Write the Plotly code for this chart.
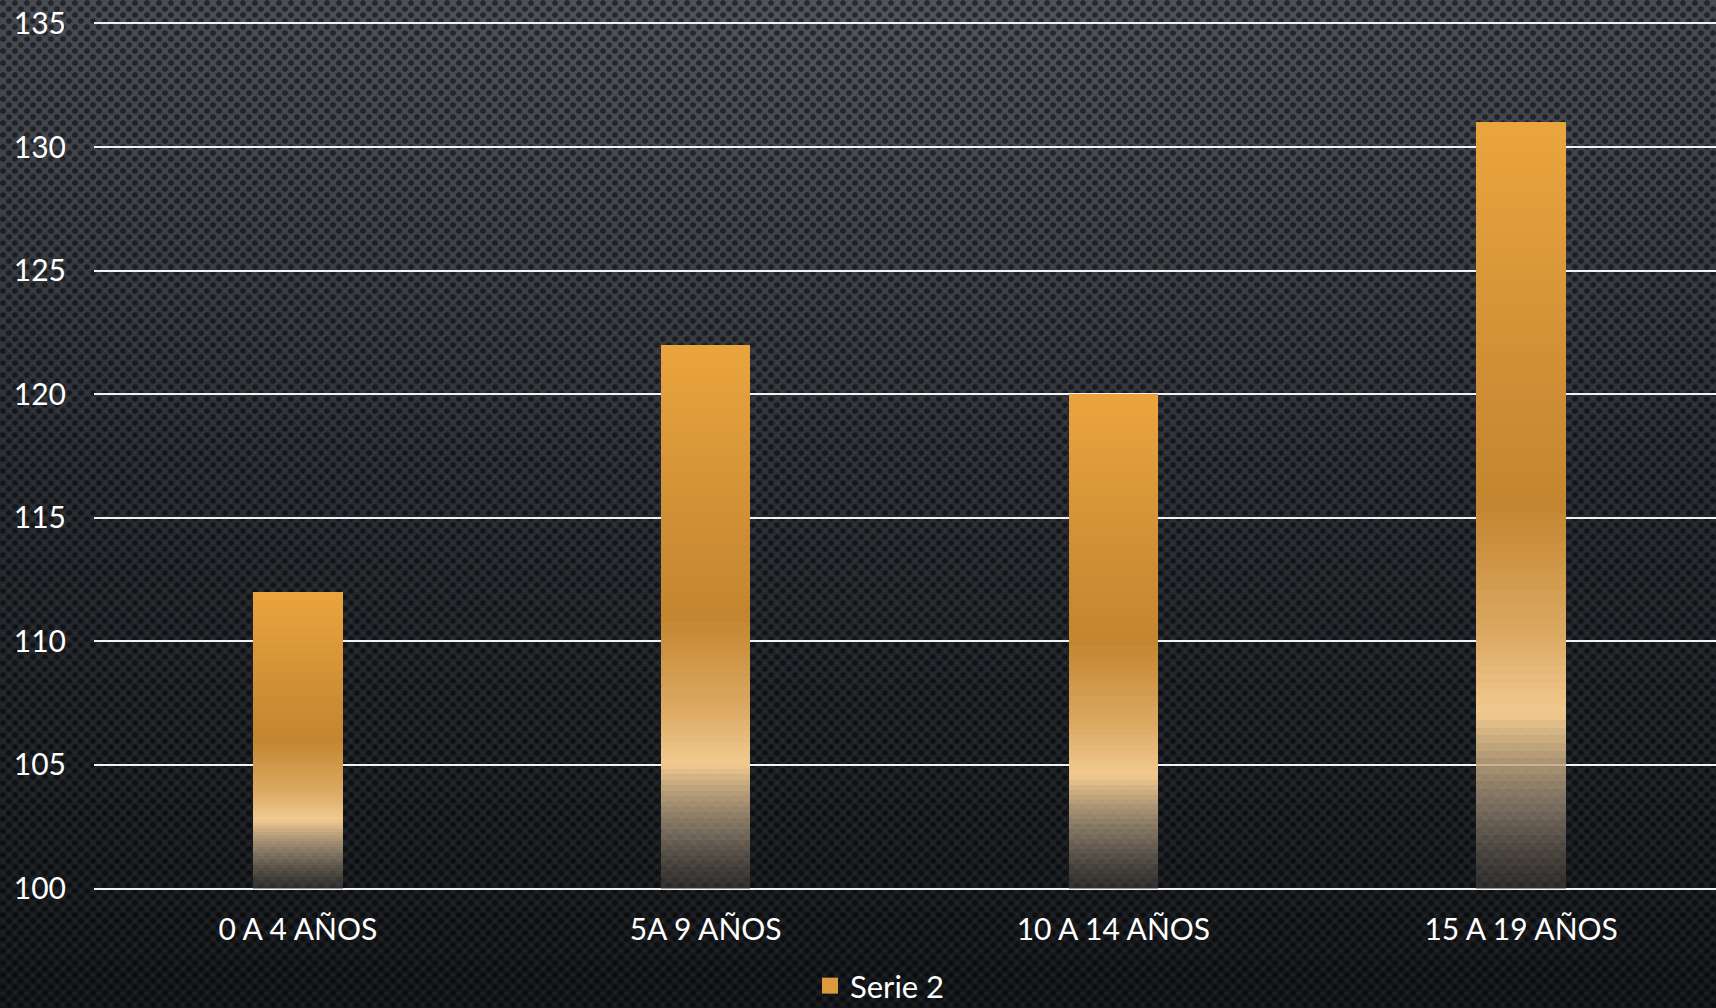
import base64
import plotly.graph_objects as go

categories = ["0 A 4 AÑOS", "5A 9 AÑOS", "10 A 14 AÑOS", "15 A 19 AÑOS"]
serie2 = [112, 122, 120, 131]
series_name = "Serie 2"
y_ticks = [100, 105, 110, 115, 120, 125, 130, 135]

W, H = 1716, 1008
ML, MR, MT, MB = 94, 0, 21, 117
PW, PH = W - ML - MR, H - MT - MB
FONT = "Lato, 'Open Sans', sans-serif"

# vertical gradient stops for bars (fraction from bottom -> rgba)
stops = [
    (0.00, (70, 66, 62, 0.5)),
    (0.10, (150, 135, 115, 0.72)),
    (0.23, (242, 202, 144, 1.0)),
    (0.33, (220, 170, 100, 1.0)),
    (0.50, (196, 134, 48, 1.0)),
    (0.70, (210, 145, 55, 1.0)),
    (1.00, (235, 165, 62, 1.0)),
]


def grad(t):
    for (t0, c0), (t1, c1) in zip(stops, stops[1:]):
        if t0 <= t <= t1:
            f = (t - t0) / (t1 - t0) if t1 > t0 else 0
            c = [c0[i] + (c1[i] - c0[i]) * f for i in range(4)]
            return "rgba(%d,%d,%d,%.3f)" % (c[0], c[1], c[2], c[3])
    c = stops[-1][1]
    return "rgba(%d,%d,%d,%.3f)" % c


NSEG = 100
base0 = y_ticks[0]
xs, bases, heights, colors = [], [], [], []
for cat, v in zip(categories, serie2):
    h = (v - base0) / NSEG
    for k in range(NSEG):
        xs.append(cat)
        bases.append(base0 + k * h)
        heights.append(h)
        colors.append(grad((k + 0.5) / NSEG))

svg = f"""<svg xmlns='http://www.w3.org/2000/svg' width='{W}' height='{H}' viewBox='0 0 {W} {H}'>
<defs>
<linearGradient id='g' x1='0' y1='0' x2='0' y2='1'>
<stop offset='0' stop-color='#42454c'/>
<stop offset='0.45' stop-color='#282b31'/>
<stop offset='1' stop-color='#15181b'/>
</linearGradient>
<radialGradient id='r' cx='0.5' cy='0' r='0.7'>
<stop offset='0' stop-color='#ffffff' stop-opacity='0.07'/>
<stop offset='1' stop-color='#ffffff' stop-opacity='0'/>
</radialGradient>
<pattern id='p' width='12' height='12' patternUnits='userSpaceOnUse'>
<circle cx='3' cy='3' r='2.8' fill='#000' fill-opacity='0.5'/>
<circle cx='9' cy='9' r='2.8' fill='#000' fill-opacity='0.5'/>
<circle cx='9' cy='3' r='1.4' fill='#fff' fill-opacity='0.04'/>
<circle cx='3' cy='9' r='1.4' fill='#fff' fill-opacity='0.04'/>
</pattern>
</defs>
<rect width='{W}' height='{H}' fill='url(#g)'/>
<rect width='{W}' height='{H}' fill='url(#r)'/>
<rect width='{W}' height='{H}' fill='url(#p)'/>
</svg>"""
bg_uri = "data:image/svg+xml;base64," + base64.b64encode(svg.encode()).decode()

fig = go.Figure()
fig.add_trace(go.Bar(
    x=xs, y=heights, base=bases,
    marker=dict(color=colors, line=dict(width=0)),
    width=0.22, showlegend=False, hoverinfo="skip",
))
fig.add_trace(go.Scatter(
    x=[None], y=[None], mode="markers", name=series_name,
    marker=dict(symbol="square", size=16, color="#dc9a3c"),
))

fig.update_layout(
    width=W, height=H,
    margin=dict(l=ML, r=MR, t=MT, b=MB),
    paper_bgcolor="#1c1f23", plot_bgcolor="rgba(0,0,0,0)",
    font=dict(family=FONT, color="#ffffff", size=30),
    barmode="overlay",
    bargap=0,
    showlegend=True,
    legend=dict(orientation="h", x=(880 - ML) / PW, xanchor="center",
                yref="container", y=1 - 986 / H, yanchor="middle",
                font=dict(size=31, color="#ffffff"), bgcolor="rgba(0,0,0,0)",
                itemwidth=30),
    images=[dict(source=bg_uri, xref="paper", yref="paper",
                 x=-ML / PW, y=1 + MT / PH, sizex=W / PW, sizey=H / PH,
                 xanchor="left", yanchor="top", sizing="stretch", layer="below")],
)
fig.update_xaxes(
    type="category", categoryorder="array", categoryarray=categories,
    range=[-0.5, 3.478], showgrid=False, showline=False, zeroline=False,
    ticks="outside", ticklen=12, tickcolor="rgba(0,0,0,0)",
    tickfont=dict(size=30, color="#ffffff", family=FONT),
)
fig.update_yaxes(
    range=[99.9, 135.1], tickvals=y_ticks, ticktext=[str(v) for v in y_ticks],
    showgrid=True, gridcolor="#f2f2f2", gridwidth=2, zeroline=False, showline=False,
    ticks="outside", ticklen=21, tickcolor="rgba(0,0,0,0)",
    tickfont=dict(size=30, color="#ffffff", family=FONT),
)

fig.write_html(
    "out.html",
    config={"displayModeBar": False},
    post_script="document.body.style.margin='0';document.body.style.background='#1c1f23';",
)
